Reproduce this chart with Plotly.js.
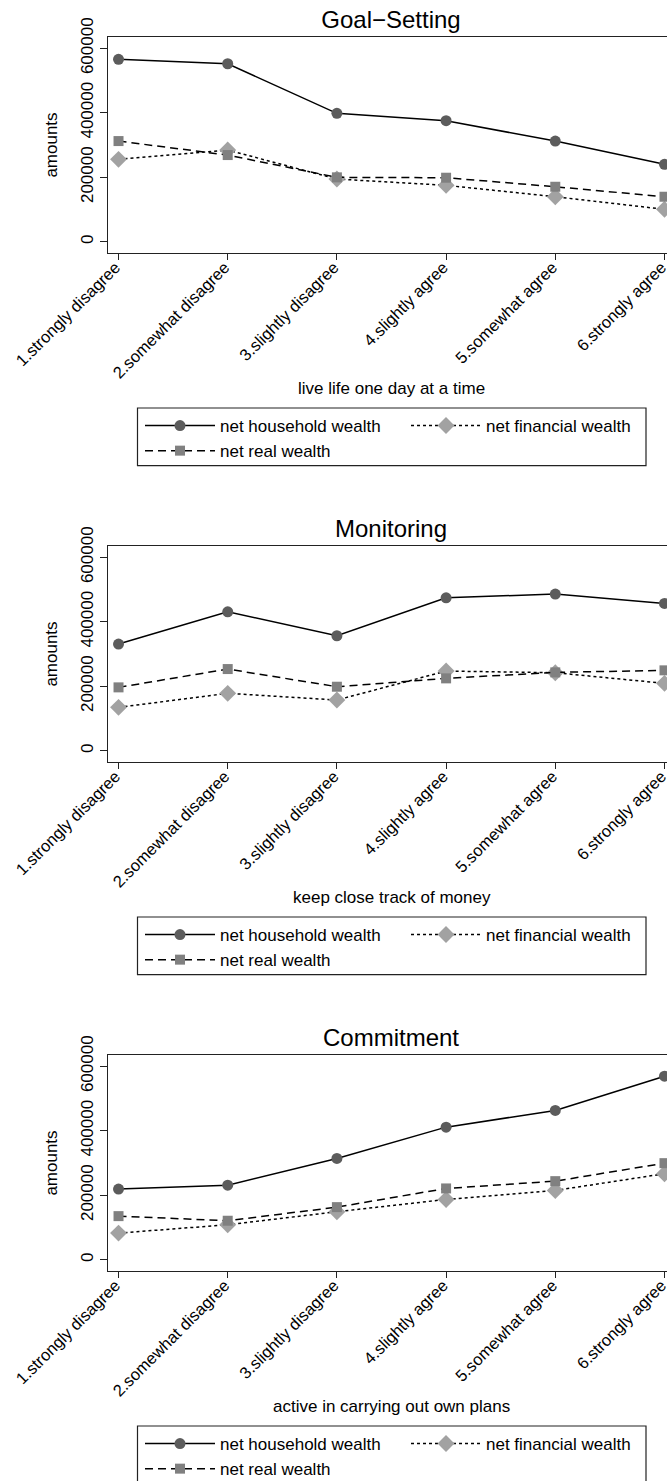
<!DOCTYPE html>
<html><head><meta charset="utf-8">
<script src="https://cdn.plot.ly/plotly-3.0.1.min.js"></script>
<style>
html,body{margin:0;padding:0;background:#fff;overflow:hidden;width:667px;height:1481px;position:relative}
.panel{position:absolute;left:0;width:675px;height:509px}
</style>
</head><body>
<div id="p1" class="panel" style="top:0px"></div>
<div id="p2" class="panel" style="top:509px"></div>
<div id="p3" class="panel" style="top:1018px"></div>
<script>
// ---- data ----
const categories = ["1.strongly disagree", "2.somewhat disagree", "3.slightly disagree",
                    "4.slightly agree", "5.somewhat agree", "6.strongly agree"];
const seriesNames = ["net household wealth", "net financial wealth", "net real wealth"];
const panelTitles = ["Goal\u2212Setting", "Monitoring", "Commitment"];
const xTitles = ["live life one day at a time", "keep close track of money", "active in carrying out own plans"];
const yTitle = "amounts";
const yTickVals = [0, 200000, 400000, 600000];

const goalHousehold = [565600, 552000, 398100, 375300, 312200, 240000];
const goalFinancial = [255500, 284300, 194400, 174900, 139500, 100500];
const goalReal      = [312200, 268800, 199700, 198500, 170500, 139500];

const monHousehold  = [330900, 431000, 356600, 474400, 485900, 457000];
const monFinancial  = [134500, 178000, 157200, 247100, 241900, 209000];
const monReal       = [196500, 253300, 198500, 224400, 243000, 249300];

const comHousehold  = [219000, 231300, 314100, 411200, 463000, 569300];
const comFinancial  = [82500, 108500, 148800, 187000, 214900, 266700];
const comReal       = [135200, 120900, 163100, 221100, 243700, 299500];

// ---- styles ----
const FONT = "Liberation Sans, Arial, Helvetica, sans-serif";
const styles = [
  {line: {color: "#000", width: 1.5, dash: "solid"}, marker: {symbol: "circle", size: 11, color: "#5c5c5c"}},
  {line: {color: "#000", width: 1.5, dash: "3px,3px"}, marker: {symbol: "diamond", size: 13, color: "#a2a2a2"}},
  {line: {color: "#000", width: 1.5, dash: "8px,5px"}, marker: {symbol: "square", size: 10, color: "#808080"}}
];

// plot-area geometry in px (used to convert to paper coordinates)
const PL = 108, PW = 567, PT = 37, PH = 216;
const px2x = v => (v - PL) / PW;
const px2y = v => (PT + PH - v) / PH;

function makePanel(divId, title, xTitle, seriesList) {
  const traces = seriesList.map((vals, i) => ({
    type: "scatter", mode: "lines+markers",
    x: categories, y: vals, name: seriesNames[i],
    line: styles[i].line,
    marker: Object.assign({line: {width: 0}}, styles[i].marker),
    cliponaxis: false
  }));
  const layout = {
    width: 675, height: 509,
    margin: {l: PL, r: 675 - PL - PW, t: PT, b: 509 - PT - PH, autoexpand: false},
    paper_bgcolor: "#fff", plot_bgcolor: "#fff",
    font: {family: FONT, size: 17, color: "#000"},
    showlegend: true,
    title: {text: title, font: {family: FONT, size: 24, color: "#000"},
            x: 391 / 675, xref: "container", xanchor: "center",
            y: 1 - 19.5 / 509, yref: "container", yanchor: "middle"},
    xaxis: {
      type: "category", range: [-0.0963, 5.0963],
      showgrid: false, zeroline: false,
      showline: true, linecolor: "#222", linewidth: 1.3, mirror: true,
      ticks: "outside", ticklen: 6, tickwidth: 1.2, tickcolor: "#222",
      tickangle: -45, tickfont: {family: FONT, size: 16.5, color: "#000"},
      ticklabelstandoff: -9, ticklabelshift: -3,
      automargin: false
    },
    yaxis: {
      range: [-35000, 635000], tickvals: yTickVals, tickformat: "d",
      showgrid: false, zeroline: false,
      showline: true, linecolor: "#222", linewidth: 1.3,
      ticks: "outside", ticklen: 7, tickwidth: 1.2, tickcolor: "#222",
      tickangle: -90, tickfont: {family: FONT, size: 17, color: "#000"},
      ticklabelstandoff: 0,
      title: {text: yTitle, font: {family: FONT, size: 17, color: "#000"}, standoff: 16},
      automargin: false
    },
    annotations: [{
      text: xTitle, xref: "paper", yref: "paper",
      x: 0.5, y: px2y(388), xanchor: "center", yanchor: "middle",
      showarrow: false, font: {family: FONT, size: 17, color: "#000"}
    }],
    shapes: [{
      type: "rect", xref: "paper", yref: "paper",
      x0: px2x(137.5), x1: px2x(646), y0: px2y(408), y1: px2y(465.7),
      line: {color: "#222", width: 1.2}, fillcolor: "rgba(0,0,0,0)"
    }],
    legend: {
      orientation: "h", x: px2x(140), xanchor: "left",
      y: px2y(408), yanchor: "top",
      bgcolor: "rgba(0,0,0,0)", borderwidth: 0,
      font: {family: FONT, size: 17, color: "#000"},
      itemwidth: 70, entrywidth: 181, entrywidthmode: "pixels",
      traceorder: "normal"
    }
  };
  Plotly.newPlot(divId, traces, layout, {staticPlot: true});
}

makePanel("p1", panelTitles[0], xTitles[0], [goalHousehold, goalFinancial, goalReal]);
makePanel("p2", panelTitles[1], xTitles[1], [monHousehold, monFinancial, monReal]);
makePanel("p3", panelTitles[2], xTitles[2], [comHousehold, comFinancial, comReal]);
</script>
</body></html>
